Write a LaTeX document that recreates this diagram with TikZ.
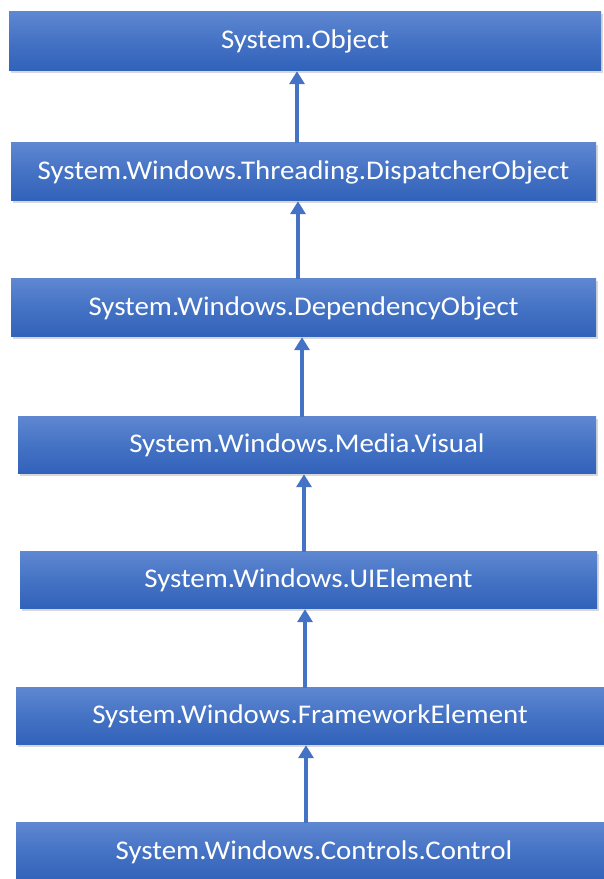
\documentclass[tikz,border=0pt]{standalone}
\usepackage{fontspec}
\setmainfont{Carlito}[FakeStretch=1.07]
\usetikzlibrary{arrows.meta,shadows}
\definecolor{topblue}{RGB}{94,135,209}
\definecolor{midblue}{RGB}{68,114,196}
\definecolor{botblue}{RGB}{49,98,186}
\definecolor{arrblue}{RGB}{68,114,196}
\begin{document}
\begin{tikzpicture}[x=1pt,y=1pt,
  cls/.style={rectangle, inner sep=0pt, top color=topblue, bottom color=botblue, middle color=midblue,
    text=white, font=\fontsize{27}{32}\selectfont,
    drop shadow={shadow xshift=1.5pt, shadow yshift=-2.5pt, opacity=0.3}},
  inh/.style={draw=arrblue, line width=4pt, -{Triangle[width=15pt,length=13pt]}}]
\useasboundingbox (0,0) rectangle (604,879);
\clip (0,0) rectangle (604,879);
\fill[white] (0,0) rectangle (604,879);
\node[cls, minimum width=592pt, minimum height=59pt] (b1) at (305,837.5) {System.Object};
\node[cls, minimum width=585pt, minimum height=58pt] (b2) at (303.5,707) {System.Windows.Threading.DispatcherObject};
\node[cls, minimum width=585pt, minimum height=58pt] (b3) at (303.5,571) {System.Windows.DependencyObject};
\node[cls, minimum width=578pt, minimum height=57pt] (b4) at (307,433.5) {System.Windows.Media.Visual};
\node[cls, minimum width=577pt, minimum height=57pt] (b5) at (308.5,298.5) {System.Windows.UIElement};
\node[cls, minimum width=588pt, minimum height=57pt] (b6) at (310,162.5) {System.Windows.FrameworkElement};
\node[cls, minimum width=596pt, minimum height=58pt] (b7) at (314,27) {System.Windows.Controls.Control};
\coordinate (x1) at (297,0);
\coordinate (x2) at (298,0);
\coordinate (x3) at (302,0);
\coordinate (x4) at (304,0);
\coordinate (x5) at (305,0);
\coordinate (x6) at (306,0);
\draw[inh] (b2.north -| x1) -- (b1.south -| x1);
\draw[inh] (b3.north -| x2) -- (b2.south -| x2);
\draw[inh] (b4.north -| x3) -- (b3.south -| x3);
\draw[inh] (b5.north -| x4) -- (b4.south -| x4);
\draw[inh] (b6.north -| x5) -- (b5.south -| x5);
\draw[inh] (b7.north -| x6) -- (b6.south -| x6);
\end{tikzpicture}
\end{document}
